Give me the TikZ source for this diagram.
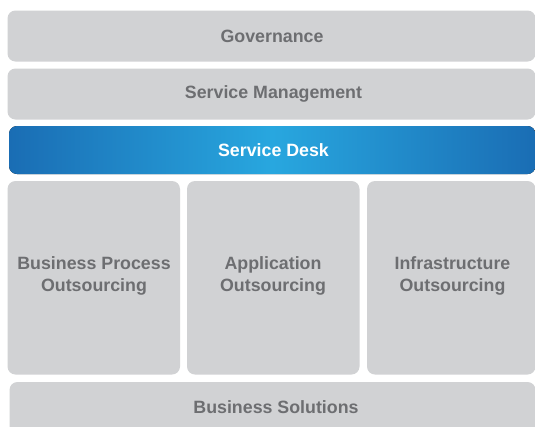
\documentclass[tikz,border=0pt]{standalone}
\usepackage{fontspec}
\setmainfont{Liberation Sans}
\definecolor{boxgray}{HTML}{D1D2D4}
\definecolor{txtgray}{HTML}{6D6E71}
\definecolor{bluedark}{HTML}{1A6DB4}
\definecolor{bluelight}{HTML}{28A7DF}
\tikzset{
  layer/.style={fill=boxgray, rounded corners=8pt},
  lbl/.style={text=txtgray, font=\fontsize{17.8}{22}\selectfont\bfseries, align=center},
  wlbl/.style={text=white, font=\fontsize{17.8}{22}\selectfont\bfseries, align=center}
}
\begin{document}
\begin{tikzpicture}[x=1pt,y=-1pt]
\useasboundingbox (0,0) rectangle (535,426);
\fill[white] (0,0) rectangle (535,426);
% layers
\fill[layer] (7.5,10.5) rectangle (535.5,61.5);
\fill[layer] (7.5,68.5) rectangle (535.5,119.5);
\fill[rounded corners=8pt, left color=bluedark, right color=bluedark, middle color=bluelight] (9,126) rectangle (535.5,174);
\fill[layer] (7.5,181) rectangle (180,374.5);
\fill[layer] (187,181) rectangle (359.5,374.5);
\fill[layer] (367,181) rectangle (535.5,374.5);
\fill[layer] (9.5,382) rectangle (535.5,440);
% labels
\node[lbl] (gov) at (272,36) {Governance};
\node[lbl] (sm) at (273.5,94) {Service Management};
\node[wlbl] (sd) at (273.5,150) {Service Desk};
\node[lbl] (bpo) at (94,276) {Business Process\\Outsourcing};
\node[lbl] (ao) at (273,276) {Application\\Outsourcing};
\node[lbl] (io) at (452.5,276) {Infrastructure\\Outsourcing};
\node[lbl] (bs) at (276,407) {Business Solutions};
\end{tikzpicture}
\end{document}
